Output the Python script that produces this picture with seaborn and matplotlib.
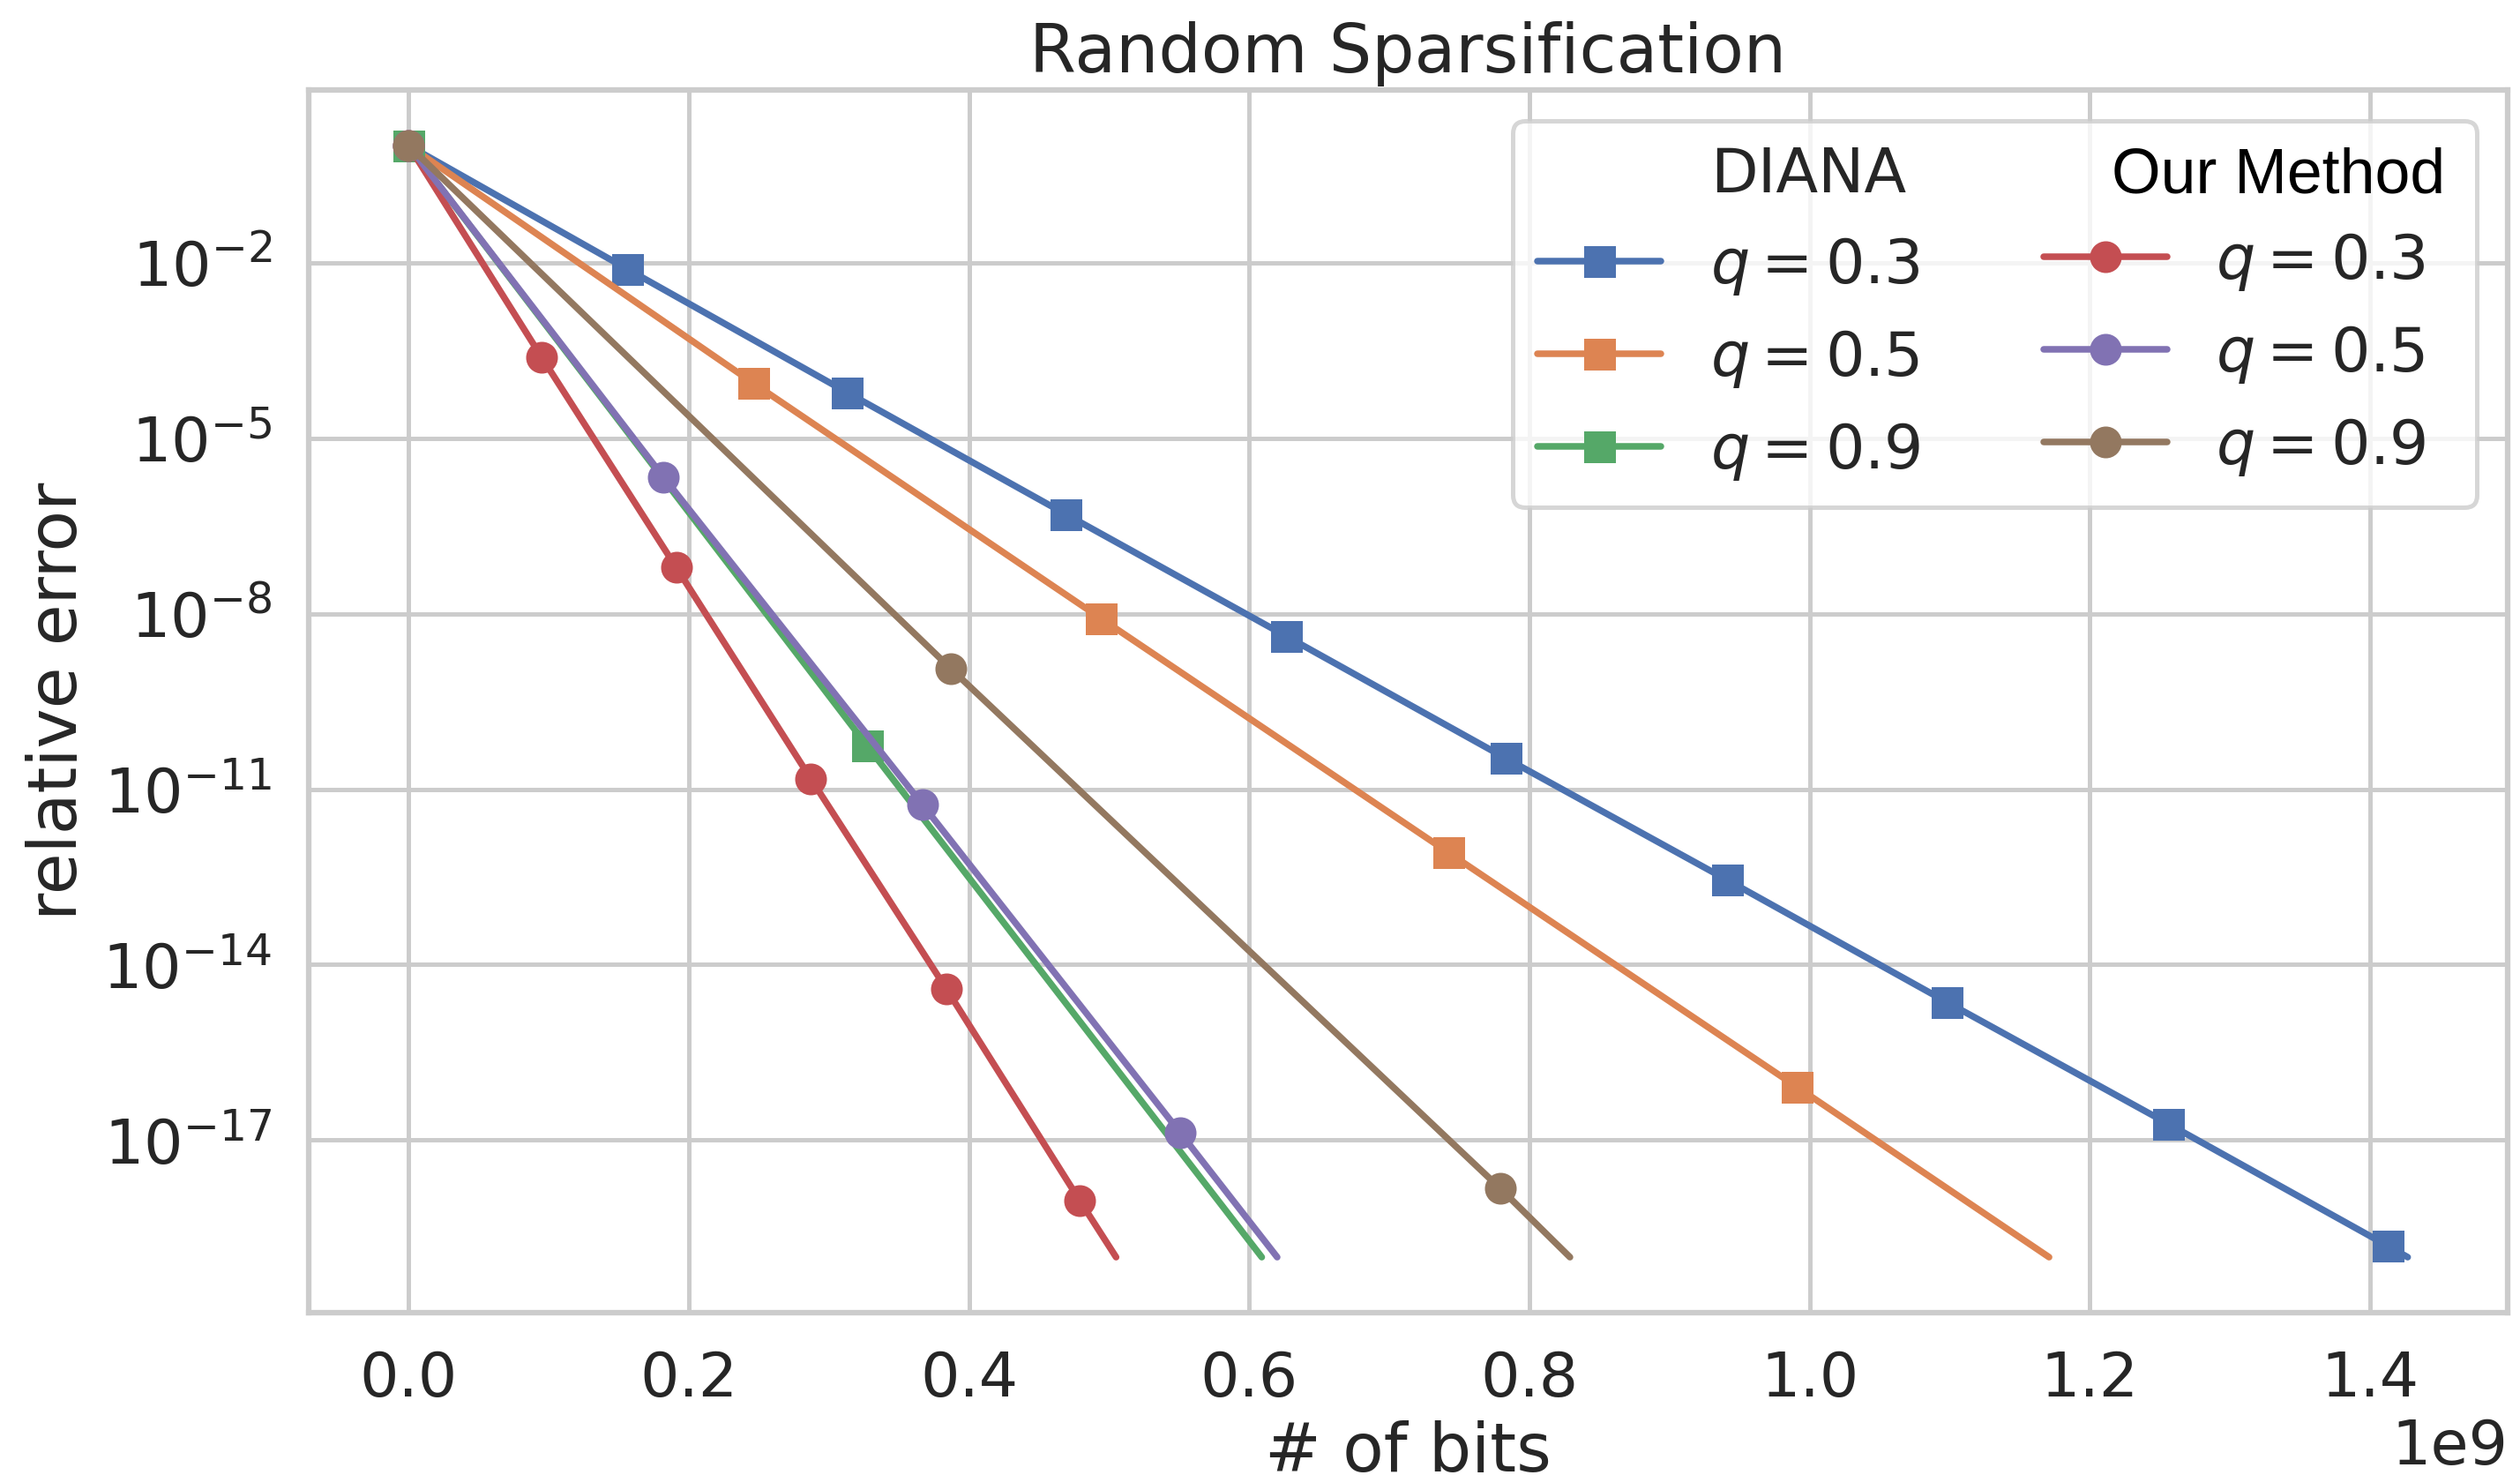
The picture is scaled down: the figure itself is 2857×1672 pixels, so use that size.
import numpy as np
import matplotlib
matplotlib.use("Agg")
import matplotlib.pyplot as plt
from matplotlib.lines import Line2D
import seaborn as sns

# values: bits in units of 1e9, error as log10(relative error)
diana_03_bits = [0.0, 0.156, 0.313, 0.469, 0.626, 0.783, 0.941, 1.098, 1.256, 1.413, 1.427]
diana_03_log_err = [0.0, -2.11, -4.22, -6.30, -8.38, -10.47, -12.55, -14.64, -16.72, -18.81, -19.0]

diana_05_bits = [0.0, 0.246, 0.494, 0.742, 0.991, 1.171]
diana_05_log_err = [0.0, -4.06, -8.08, -12.08, -16.09, -19.0]

diana_09_bits = [0.0, 0.327, 0.609]
diana_09_log_err = [0.0, -10.25, -19.0]

ours_03_bits = [0.0, 0.095, 0.191, 0.287, 0.384, 0.479, 0.505]
ours_03_log_err = [0.0, -3.62, -7.21, -10.82, -14.42, -18.03, -19.0]

ours_05_bits = [0.0, 0.182, 0.367, 0.551, 0.620]
ours_05_log_err = [0.0, -5.67, -11.27, -16.88, -19.0]

ours_09_bits = [0.0, 0.387, 0.779, 0.829]
ours_09_log_err = [0.0, -8.94, -17.82, -19.0]

q_labels = ["$q = 0.3$", "$q = 0.5$", "$q = 0.9$"]
y_tick_exponents = [-2, -5, -8, -11, -14, -17]

sns.set_theme(style="whitegrid", context="talk", font_scale=1.27)
pal = sns.color_palette("deep")

fig = plt.figure(figsize=(2857 / 240, 1672 / 240), dpi=240)
ax = fig.add_subplot(111)
fig.subplots_adjust(left=0.1225, right=0.9951, top=0.939, bottom=0.110)

series = [
    (diana_03_bits, diana_03_log_err, pal[0], "s"),
    (diana_05_bits, diana_05_log_err, pal[1], "s"),
    (diana_09_bits, diana_09_log_err, pal[2], "s"),
    (ours_03_bits, ours_03_log_err, pal[3], "o"),
    (ours_05_bits, ours_05_log_err, pal[4], "o"),
    (ours_09_bits, ours_09_log_err, pal[5], "o"),
]

handles = []
for bits, log_err, color, mk in series:
    x = np.array(bits) * 1e9
    y = 10.0 ** np.array(log_err)
    sns.lineplot(x=x, y=y, ax=ax, color=color, marker=mk, markersize=9.3,
                 markeredgewidth=1.5, markeredgecolor=color, linewidth=2.25,
                 markevery=list(range(len(x) - 1)))
    handles.append(Line2D([], [], color=color, marker=mk, markersize=9.3,
                          markeredgewidth=1.5, markeredgecolor=color, linewidth=2.25))

ax.set_yscale("log")
ax.set_yticks([10.0 ** e for e in y_tick_exponents])
ax.set_xlabel("# of bits")
ax.set_ylabel("relative error")
ax.set_title("Random Sparsification")

blank = Line2D([], [], linestyle="none")
leg_handles = [blank] + handles[:3] + [blank] + handles[3:]
leg_labels = ["DIANA"] + q_labels + ["Our Method"] + q_labels
leg = ax.legend(leg_handles, leg_labels, ncol=2, loc="upper right")
# second header is only a spacer; the visible one is drawn in another font
spacer = leg.get_texts()[4]
spacer.set_fontsize(13.6)
spacer.set_alpha(0)

ax.text(0.9715, 0.9163, "Our Method", transform=ax.transAxes, ha="right",
        va="baseline", fontsize=21.5, family="Liberation Sans", color="black",
        zorder=10)

fig.savefig("out.png", dpi=240)
